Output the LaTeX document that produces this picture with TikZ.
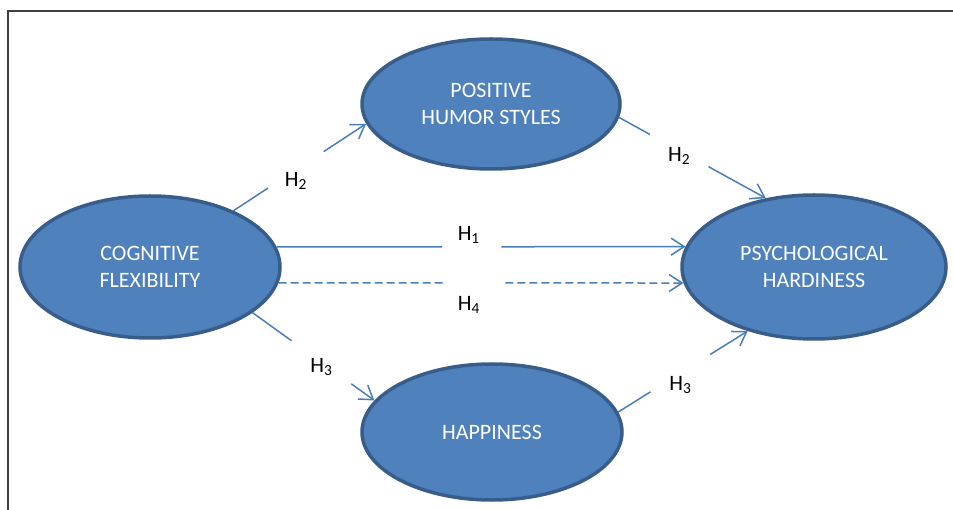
\documentclass[tikz,border=0pt]{standalone}
\usepackage{fontspec}
\setmainfont{Carlito}
\usetikzlibrary{arrows.meta,shapes.geometric,positioning}
\definecolor{boxblue}{HTML}{4F81BD}
\definecolor{rimblue}{HTML}{385D8A}
\definecolor{lineblue}{HTML}{4A7EBB}

\begin{document}
\begin{tikzpicture}[x=1pt,y=-1pt,on grid,>={Straight Barb[length=13pt,width=17pt]},
                    main node/.style={ellipse,draw=rimblue,line width=3.5pt,fill=boxblue,text=white,
                      align=center,inner sep=0pt,font=\fontsize{22}{27}\selectfont},
                    link/.style={draw=lineblue,line width=1.5pt},
                    hyp/.style={inner sep=0pt,font=\fontsize{22}{26}\selectfont}]

  \useasboundingbox (0,0) rectangle (953,510);
  \draw[line width=1.5pt,black!75] (8,510) -- (8,11) -- (953,11);

  \node[main node,minimum width=260pt,minimum height=142pt] (cog) at (150,267) {COGNITIVE\\FLEXIBILITY};
  \node[main node,minimum width=258pt,minimum height=130pt] (pos) [above right=163pt and 341pt of cog] {POSITIVE\\HUMOR STYLES};
  \node[main node,minimum width=264pt,minimum height=144pt] (hard) [right=664pt of cog] {PSYCHOLOGICAL\\HARDINESS};
  \node[main node,minimum width=260pt,minimum height=136pt] (hap) [below right=165pt and 342pt of cog] {HAPPINESS};

  % gaps in the connectors, labels sit in them
  \path (cog.34) -- coordinate[pos=.26] (h2a) node[hyp,pos=.47,yshift=-11pt] (lh2a) {H\textsubscript{2}} coordinate[pos=.68] (h2b) (pos.189);
  \path (pos.-6) -- coordinate[pos=.21] (h2c) node[hyp,pos=.41,yshift=-5pt] (lh2b) {H\textsubscript{2}} coordinate[pos=.61] (h2d) (hard.125);
  \path (cog.9) -- coordinate[pos=.405] (h1a) node[hyp,pos=.47,yshift=12pt] (lh1) {H\textsubscript{1}} coordinate[pos=.55] (h1b) (hard.171);
  \path (cog.-7) -- coordinate[pos=.41] (h4a) node[hyp,pos=.47,yshift=-22pt] (lh4) {H\textsubscript{4}} coordinate[pos=.56] (h4b) (hard.-173);
  \path (cog.-24) -- coordinate[pos=.32] (h3a) node[hyp,pos=.565,yshift=-5pt] (lh3a) {H\textsubscript{3}} coordinate[pos=.81] (h3b) (hap.165);
  \path (hap.9) -- coordinate[pos=.25] (h3c) node[hyp,pos=.48,yshift=-12pt] (lh3b) {H\textsubscript{3}} coordinate[pos=.71] (h3d) (hard.224);

  \draw[link] (cog.34) -- (h2a);   \draw[link,->] (h2b) -- (pos.189);
  \draw[link] (pos.-6) -- (h2c);   \draw[link,->] (h2d) -- (hard.125);
  \draw[link] (cog.9) -- (h1a);    \draw[link,->] (h1b) -- (hard.171);
  \draw[link,dash pattern=on 8pt off 4pt] (cog.-7) -- (h4a);
  \draw[link,dash pattern=on 8pt off 4pt,->] (h4b) -- (hard.-173);
  \draw[link] (cog.-24) -- (h3a);  \draw[link,->] (h3b) -- (hap.165);
  \draw[link] (hap.9) -- (h3c);    \draw[link,->] (h3d) -- (hard.224);
\end{tikzpicture}
\end{document}
